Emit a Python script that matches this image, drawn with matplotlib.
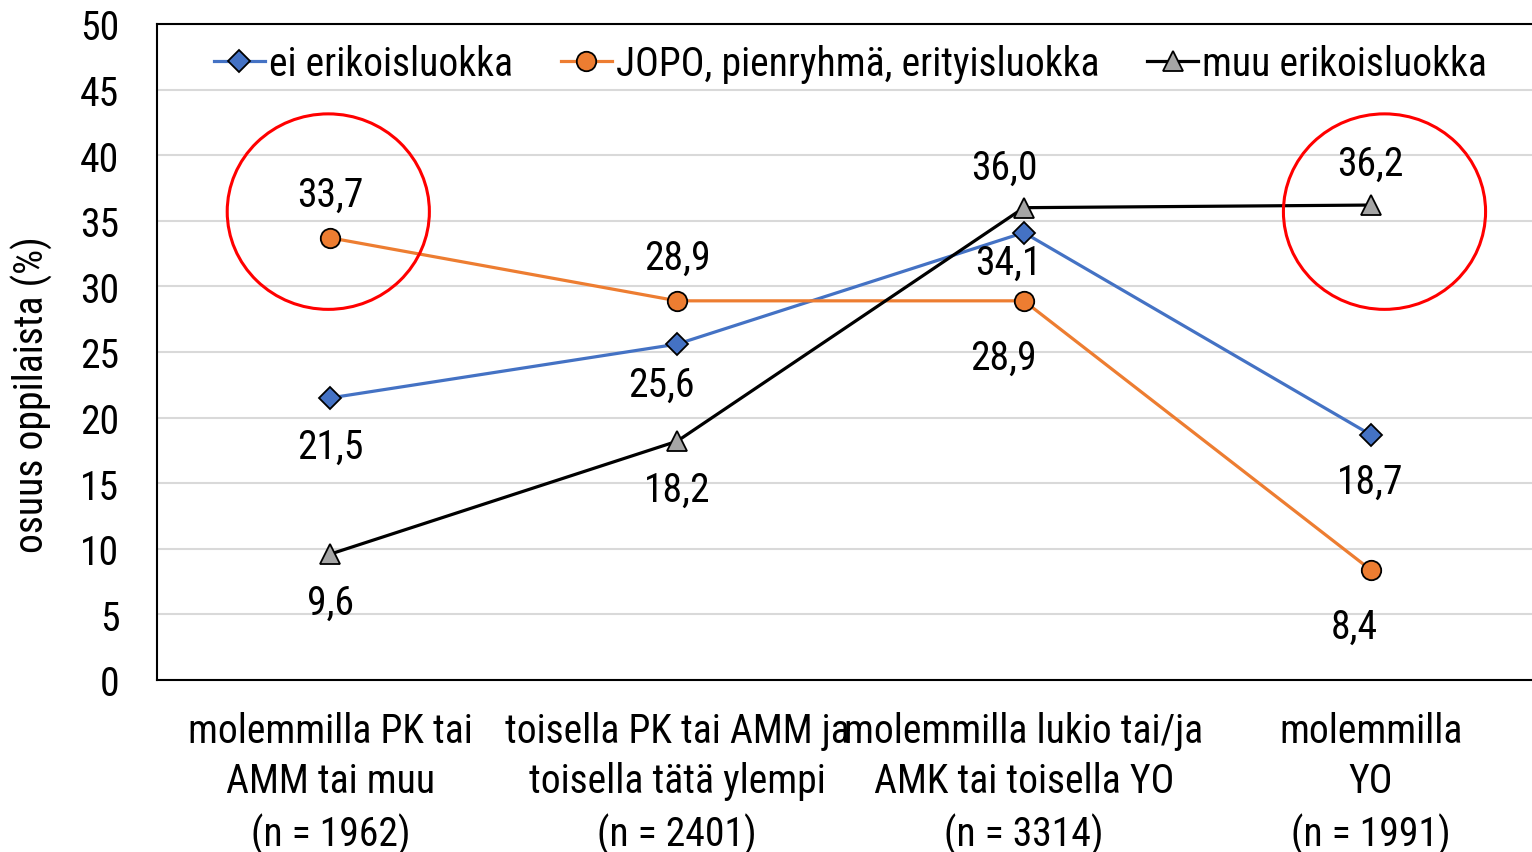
import matplotlib.pyplot as plt
from matplotlib import font_manager
from matplotlib.patches import Ellipse

# pick a narrow sans face if one is installed
available = {f.name for f in font_manager.fontManager.ttflist}
narrow = [n for n in ['Liberation Sans Narrow', 'Arial Narrow', 'Roboto Condensed',
                      'Archivo Narrow', 'PT Sans Narrow', 'Fira Sans Condensed']
          if n in available]
if narrow:
    plt.rcParams['font.family'] = [narrow[0], 'DejaVu Sans']
    fs = 28.5
else:
    plt.rcParams['font.family'] = ['Liberation Sans', 'DejaVu Sans']
    fs = 24

# ----- Data ----- #
categories = ['molemmilla PK tai\nAMM tai muu\n(n = 1962)',
              'toisella PK tai AMM ja\ntoisella tätä ylempi\n(n = 2401)',
              'molemmilla lukio tai/ja\nAMK tai toisella YO\n(n = 3314)',
              'molemmilla\nYO\n(n = 1991)']
ei_erikois = [21.5, 25.6, 34.1, 18.7]
jopo = [33.7, 28.9, 28.9, 8.4]
muu_erikois = [9.6, 18.2, 36.0, 36.2]
series_names = ['ei erikoisluokka', 'JOPO, pienryhmä, erityisluokka', 'muu erikoisluokka']

# label offsets in pixels (dx, dy) for each point
off_ei = [(0, -48), (-16, -40), (-16, -30), (0, -47)]
off_jopo = [(0, 44), (0, 44), (-20, -56), (-16, -57)]
off_muu = [(0, -48), (0, -48), (-20, 40), (0, 42)]

fig = plt.figure(figsize=(15.32, 8.53), dpi=100)
ax = fig.add_axes([157/1532, 172/853, 1387/1532, 656/853])

x = range(len(categories))
ax.plot(x, ei_erikois, color='#4472C4', lw=2.3, marker='D', ms=11,
        mfc='#4472C4', mec='black', mew=1.3, label=series_names[0], zorder=3)
ax.plot(x, jopo, color='#ED7D31', lw=2.3, marker='o', ms=14,
        mfc='#ED7D31', mec='black', mew=1.3, label=series_names[1], zorder=3)
ax.plot(x, muu_erikois, color='black', lw=2.3, marker='^', ms=14,
        mfc='#A5A5A5', mec='black', mew=1.3, label=series_names[2], zorder=3)

for vals, offs in [(ei_erikois, off_ei), (jopo, off_jopo), (muu_erikois, off_muu)]:
    for i, (v, o) in enumerate(zip(vals, offs)):
        ax.annotate(f'{v:.1f}'.replace('.', ','), (i, v), xytext=o,
                    textcoords='offset pixels', ha='center', va='center',
                    fontsize=fs, zorder=4)

# red circles
for cx in [-0.006, 3.04]:
    ax.add_patch(Ellipse((cx, 35.7), 0.583, 14.9, fill=False,
                         ec='red', lw=2.2, zorder=5))

ax.set_xlim(-0.5, 3.5)
ax.set_ylim(0, 50)
ax.set_yticks(range(0, 51, 5))
ax.set_xticks(list(x))
ax.set_xticklabels(categories, fontsize=fs, linespacing=1.38)
ax.tick_params(axis='y', labelsize=fs, length=0, pad=27)
ax.tick_params(axis='x', length=0, pad=22)
ax.yaxis.grid(True, color='#D9D9D9', lw=1.5)
ax.set_axisbelow(True)
for s in ['left', 'top', 'bottom', 'right']:
    ax.spines[s].set_linewidth(1.5)
    ax.spines[s].set_color('black')

ax.set_ylabel('osuus oppilaista (%)', fontsize=fs)
ax.yaxis.set_label_coords(-0.075, 0.436)

ax.legend(loc='upper center', bbox_to_anchor=(0.5, 1.024), ncol=3, frameon=False,
          fontsize=fs, handlelength=1.3, handletextpad=0.1, columnspacing=1.2)

fig.savefig('out.png', dpi=100)
